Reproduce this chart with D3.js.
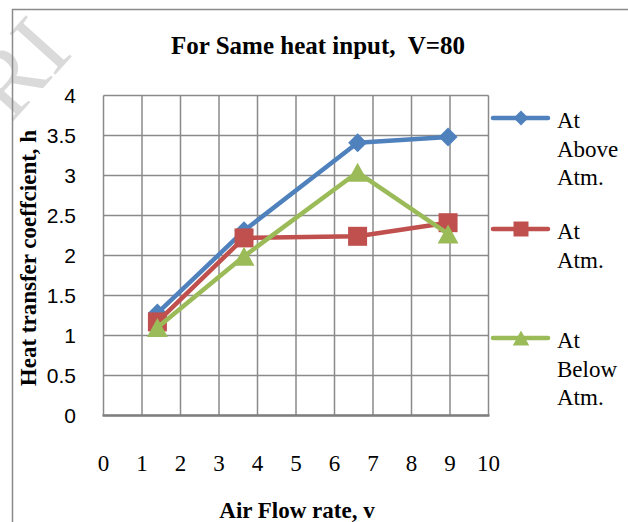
<!DOCTYPE html>
<html lang="en">
  <head>
    <meta charset="UTF-8" />
    <title>For Same heat input, V=80</title>
    <style type="text/css">
      body {
        margin: 0;
        background: #ffffff;
      }
      svg {
        display: block;
      }
      .serif {
        font-family: "Liberation Serif", "Times New Roman", serif;
      }
      .ytick {
        font-family: "Liberation Sans", Arial, sans-serif;
        font-size: 21px;
      }
    </style>
  </head>
  <body>
    <script src="https://d3js.org/d3.v7.min.js"></script>
    <script>
      var flowRate = [1.4, 3.65, 6.6, 8.95];
      var aboveAtm = [1.28, 2.31, 3.41, 3.48];
      var atAtm = [1.17, 2.22, 2.24, 2.41];
      var belowAtm = [1.1, 1.99, 3.04, 2.27];
      var xTicks = [0, 1, 2, 3, 4, 5, 6, 7, 8, 9, 10];
      var yTicks = [0, 0.5, 1, 1.5, 2, 2.5, 3, 3.5, 4];

      var series = [
        { name: ["At", "Above", "Atm."], values: aboveAtm, color: "#4f81bd", shape: "diamond" },
        { name: ["At", "Atm."], values: atAtm, color: "#c0504d", shape: "square" },
        { name: ["At", "Below", "Atm."], values: belowAtm, color: "#9bbb59", shape: "triangle" },
      ];

      var width = 628;
      var height = 522;
      var grid = "#8a8a8a";

      var svg = d3
        .select("body")
        .append("svg")
        .attr("width", width)
        .attr("height", height);

      // watermark (faint, runs off the corner like the source)
      svg
        .append("text")
        .attr("class", "serif")
        .attr("transform", "translate(74,54) rotate(-48)")
        .attr("text-anchor", "end")
        .attr("font-size", 94)
        .attr("fill", "#dadada")
        .text("JRI");

      // outer frame
      svg
        .append("rect")
        .attr("x", 12.5)
        .attr("y", 9.5)
        .attr("width", 700)
        .attr("height", 600)
        .attr("fill", "none")
        .attr("stroke", grid)
        .attr("stroke-width", 1.5);

      var x = d3.scaleLinear().domain([0, 10]).range([103.5, 488.5]);
      var y = d3.scaleLinear().domain([0, 4]).range([415.5, 95.5]);

      // grid
      var g = svg.append("g");
      g.selectAll(".vgrid")
        .data(xTicks)
        .join("line")
        .attr("x1", (d) => x(d))
        .attr("x2", (d) => x(d))
        .attr("y1", y(0))
        .attr("y2", y(4))
        .attr("stroke", grid)
        .attr("stroke-width", 1.5);
      g.selectAll(".hgrid")
        .data(yTicks)
        .join("line")
        .attr("x1", x(0))
        .attr("x2", x(10))
        .attr("y1", (d) => y(d))
        .attr("y2", (d) => y(d))
        .attr("stroke", grid)
        .attr("stroke-width", 1.5);
      g.append("line")
        .attr("x1", x(0) - 1)
        .attr("x2", x(10) + 1)
        .attr("y1", y(0))
        .attr("y2", y(0))
        .attr("stroke", "#7f7f7f")
        .attr("stroke-width", 2.5);

      // tick labels
      svg
        .append("g")
        .selectAll("text")
        .data(yTicks)
        .join("text")
        .attr("class", "ytick")
        .attr("x", 76)
        .attr("y", (d) => y(d) + 2)
        .attr("text-anchor", "end")
        .attr("dominant-baseline", "middle")
        .text((d) => d);

      svg
        .append("g")
        .selectAll("text")
        .data(xTicks)
        .join("text")
        .attr("class", "serif")
        .attr("font-size", 23)
        .attr("x", (d) => x(d))
        .attr("y", 471)
        .attr("text-anchor", "middle")
        .text((d) => d);

      // titles
      svg
        .append("text")
        .attr("class", "serif")
        .attr("x", 318)
        .attr("y", 54)
        .attr("text-anchor", "middle")
        .attr("font-size", 25)
        .attr("font-weight", "bold")
        .attr("xml:space", "preserve")
        .text("For Same heat input,  V=80");

      svg
        .append("text")
        .attr("class", "serif")
        .attr("x", 297)
        .attr("y", 518)
        .attr("text-anchor", "middle")
        .attr("font-size", 23)
        .attr("font-weight", "bold")
        .text("Air Flow rate, v");

      svg
        .append("text")
        .attr("class", "serif")
        .attr("transform", "translate(36,258) rotate(-90)")
        .attr("text-anchor", "middle")
        .attr("font-size", 23)
        .attr("font-weight", "bold")
        .text("Heat transfer coeffcient, h");

      function marker(shape, s) {
        var h = s / 2;
        if (shape === "diamond") return `M0,${-h}L${h},0L0,${h}L${-h},0Z`;
        if (shape === "square") return `M${-h},${-h}H${h}V${h}H${-h}Z`;
        return `M0,${-h}L${h * 1.1},${h}L${-h * 1.1},${h}Z`;
      }

      var line = d3
        .line()
        .x((d, i) => x(flowRate[i]))
        .y((d) => y(d));

      var plot = svg.append("g");
      series.forEach((s) => {
        plot
          .append("path")
          .attr("d", line(s.values))
          .attr("fill", "none")
          .attr("stroke", s.color)
          .attr("stroke-width", 4.5)
          .attr("stroke-linejoin", "round");
        plot
          .selectAll(null)
          .data(s.values)
          .join("path")
          .attr("transform", (d, i) => `translate(${x(flowRate[i])},${y(d)})`)
          .attr("d", marker(s.shape, 19))
          .attr("fill", s.color);
      });

      // legend
      var legendY = [118, 229, 338];
      var legend = svg
        .append("g")
        .selectAll("g")
        .data(series)
        .join("g")
        .attr("transform", (d, i) => `translate(0,${legendY[i]})`);

      legend
        .append("line")
        .attr("x1", 493)
        .attr("x2", 548)
        .attr("stroke", (d) => d.color)
        .attr("stroke-width", 4.5)
        .attr("stroke-linecap", "round");
      legend
        .append("path")
        .attr("transform", "translate(521,0)")
        .attr("d", (d) => marker(d.shape, 15))
        .attr("fill", (d) => d.color);
      legend
        .append("text")
        .attr("class", "serif")
        .attr("font-size", 23)
        .attr("x", 557)
        .attr("y", 10)
        .selectAll("tspan")
        .data((d) => d.name)
        .join("tspan")
        .attr("x", 557)
        .attr("dy", (d, i) => (i ? 28.5 : 0))
        .text((d) => d);
    </script>
  </body>
</html>
